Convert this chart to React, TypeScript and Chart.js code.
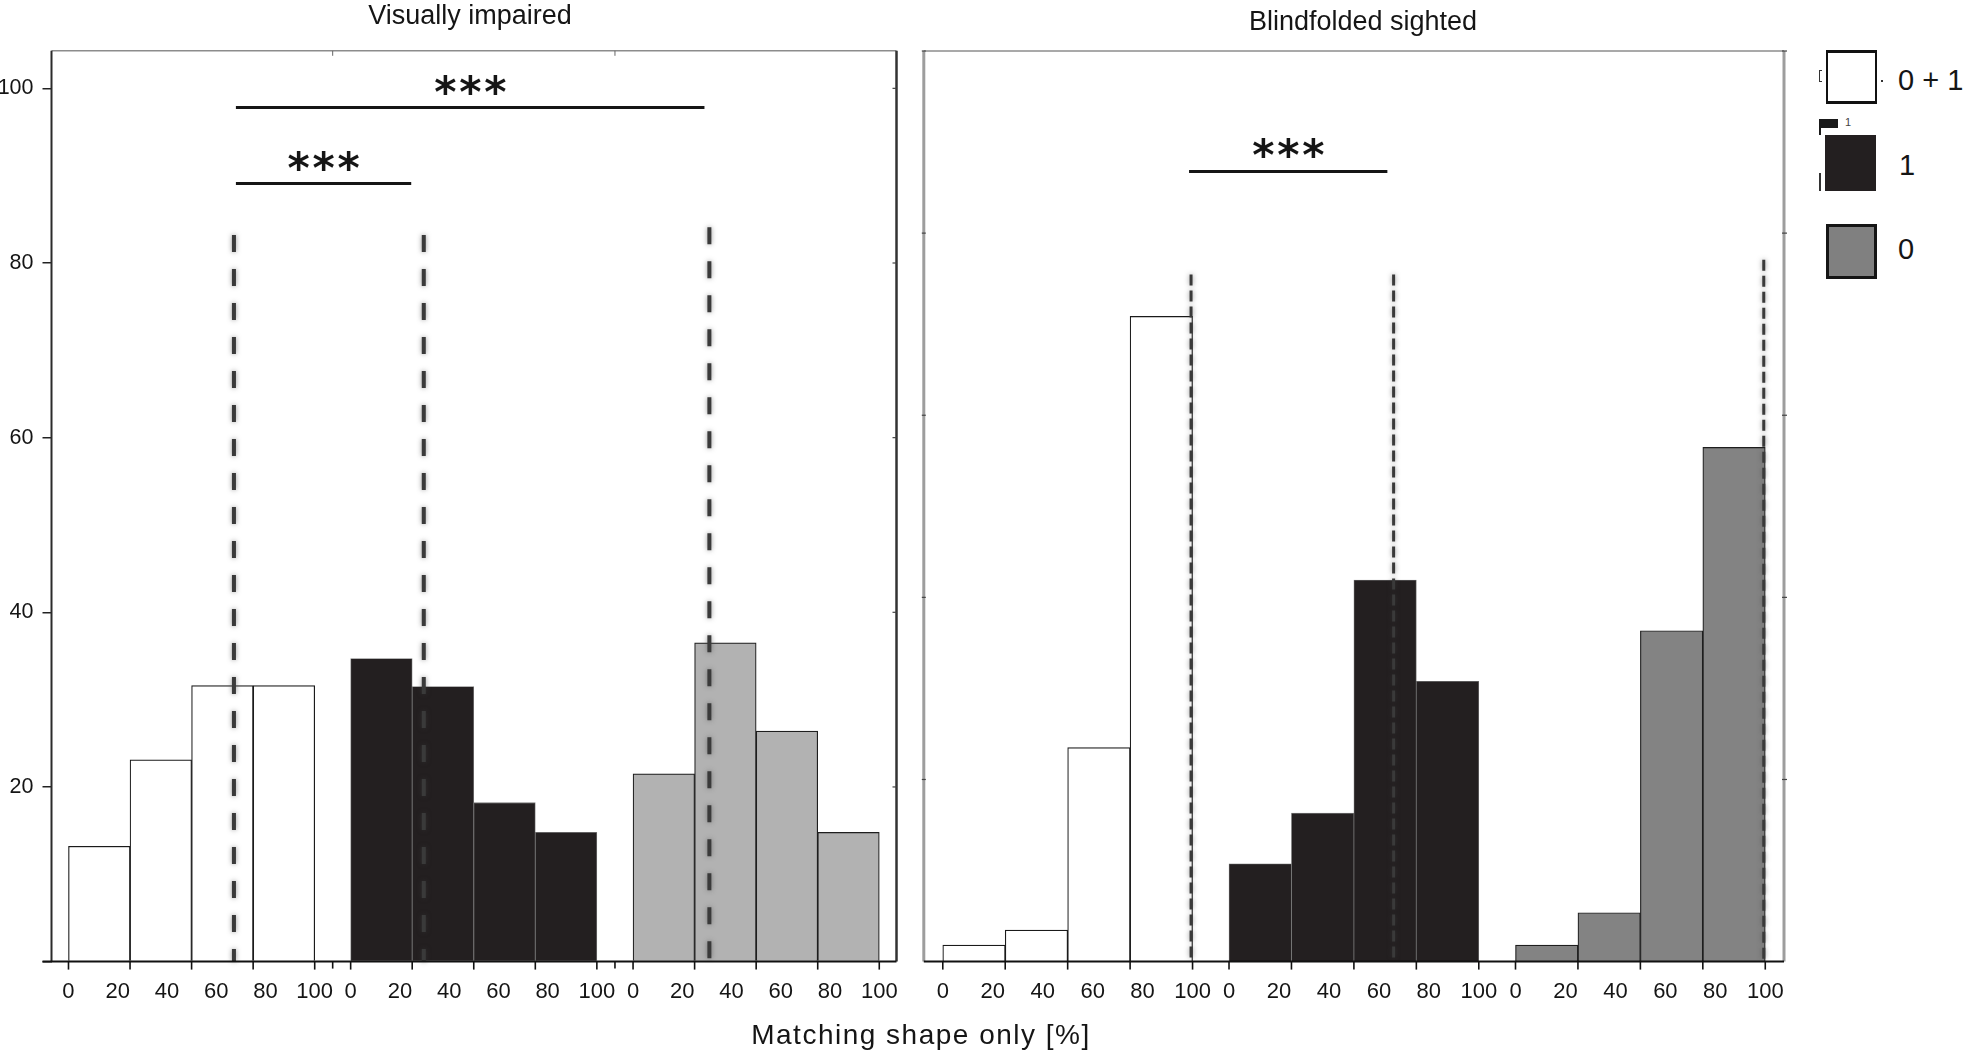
import React, { useEffect, useRef } from 'react';
import { Chart, registerables } from 'chart.js';

Chart.register(...registerables);

// ---------------- data ----------------
const binCenters = [12.5, 37.5, 62.5, 87.5];
const binEdges = [0, 25, 50, 75, 100];
const groupOffsets = [0, 114.6, 229.3];
const xTickValues = [0, 20, 40, 60, 80, 100];
const xTickLabels = ['0', '20', '40', '60', '80', '100'];
const yTickValues = [0, 20, 40, 60, 80, 100];
const yMax = 104.3;
const groupNames = ['0 + 1', '1', '0'];
const panelTitles = ['Visually impaired', 'Blindfolded sighted'];
const xAxisTitle = 'Matching shape only [%]';

// Visually impaired
const viWhite = [13.2, 23.1, 31.6, 31.6];
const viBlack = [34.7, 31.5, 18.2, 14.8];
const viGray = [21.5, 36.5, 26.4, 14.8];
// Blindfolded sighted
const bsWhite = [1.9, 3.6, 24.5, 73.9];
const bsBlack = [11.2, 17.0, 43.7, 32.1];
const bsGray = [1.9, 5.6, 37.9, 58.9];

// medians (position inside each group, 0-100) and height of the dashed line
const viMedians = [67.2, 29.7, 31.0];
const viMedianTops = [83.2, 83.2, 84.1];
const bsMedians = [99.4, 65.9, 99.4];
const bsMedianTops = [78.7, 78.7, 80.4];

// significance brackets: [groupA, groupB], [posA, posB], level
const viSigGroups = [[0, 2], [0, 1]];
const viSigPos = [[68, 29], [68, 24.6]];
const viSigY = [97.8, 89.1];
const bsSigGroups = [[0, 1]];
const bsSigPos = [[98.6, 63.4]];
const bsSigY = [90.5];
const sigLabel = '***';

// ---------------- drawing helpers ----------------
type Panel = {
  series: number[][];
  fills: string[];
  borders: string[];
  medians: number[];
  medianTops: number[];
  medianDash: number[];
  medianWidth: number;
  sigGroups: number[][];
  sigPos: number[][];
  sigY: number[];
  xMin: number;
  xMax: number;
  padTop: number;
  padRight: number;
  yWidth: number;
  yLabels: boolean;
  frame: any;
  gapTicks: boolean;
};

function drawStars(ctx: CanvasRenderingContext2D, cx: number, cy: number, text: string) {
  ctx.save();
  ctx.font = 'bold 100px "DejaVu Sans"';
  const m = ctx.measureText('*');
  const h = m.actualBoundingBoxAscent + m.actualBoundingBoxDescent;
  const size = (100 * 20) / h;
  ctx.font = `bold ${size}px "DejaVu Sans"`;
  const m2 = ctx.measureText('*');
  const mid = (m2.actualBoundingBoxAscent - m2.actualBoundingBoxDescent) / 2;
  const gw = m2.actualBoundingBoxRight - m2.actualBoundingBoxLeft;
  ctx.fillStyle = '#151515';
  ctx.textAlign = 'left';
  ctx.textBaseline = 'alphabetic';
  const n = text.length;
  for (let k = 0; k < n; k++) {
    const c = cx + (k - (n - 1) / 2) * 25;
    ctx.fillText('*', c - gw / 2 + m2.actualBoundingBoxLeft, cy + mid);
  }
  ctx.restore();
}

function line(ctx: CanvasRenderingContext2D, x1: number, y1: number, x2: number, y2: number) {
  ctx.beginPath();
  ctx.moveTo(x1, y1);
  ctx.lineTo(x2, y2);
  ctx.stroke();
}

function decorPlugin(p: Panel) {
  return {
    id: 'decor',
    afterDatasetsDraw(chart: any) {
      const { ctx, chartArea: a, scales } = chart;
      const x = scales.x;
      const y = scales.y;
      const y0 = y.getPixelForValue(0);
      ctx.save();

      // dashed medians
      p.medians.forEach((m, g) => {
        const px = x.getPixelForValue(groupOffsets[g] + m);
        const top = y.getPixelForValue(p.medianTops[g]);
        ctx.setLineDash(p.medianDash);
        ctx.lineCap = 'butt';
        ctx.shadowColor = 'rgba(60,60,60,0.55)';
        ctx.shadowBlur = 5;
        ctx.strokeStyle = '#3a3a3a';
        ctx.lineWidth = p.medianWidth;
        line(ctx, px, top, px, y0);
        ctx.shadowBlur = 0;
        ctx.shadowColor = 'transparent';
      });
      ctx.setLineDash([]);

      // significance brackets
      p.sigY.forEach((lv, i) => {
        const [ga, gb] = p.sigGroups[i];
        const [pa, pb] = p.sigPos[i];
        const xa = x.getPixelForValue(groupOffsets[ga] + pa);
        const xb = x.getPixelForValue(groupOffsets[gb] + pb);
        const py = y.getPixelForValue(lv);
        ctx.strokeStyle = '#151515';
        ctx.lineWidth = 3;
        line(ctx, xa, py, xb, py);
        drawStars(ctx, (xa + xb) / 2, py - 23, sigLabel);
      });

      // frame
      const f = p.frame;
      ctx.strokeStyle = f.topColor;
      ctx.lineWidth = f.topW;
      line(ctx, a.left, a.top, a.right, a.top);
      ctx.strokeStyle = f.leftColor;
      ctx.lineWidth = f.leftW;
      line(ctx, a.left, a.top, a.left, y0);
      ctx.strokeStyle = f.rightColor;
      ctx.lineWidth = f.rightW;
      line(ctx, a.right, a.top, a.right, y0);
      ctx.strokeStyle = '#111';
      ctx.lineWidth = 2;
      line(ctx, a.left - f.extLeft, y0, a.right, y0);

      // bin edge ticks
      ctx.strokeStyle = '#111';
      ctx.lineWidth = 1.6;
      groupOffsets.forEach((off) => {
        binEdges.forEach((e) => {
          const px = x.getPixelForValue(off + e);
          line(ctx, px, y0, px, y0 + 8);
        });
      });
      if (p.gapTicks) {
        for (let g = 0; g < groupOffsets.length - 1; g++) {
          const px = x.getPixelForValue((groupOffsets[g] + 100 + groupOffsets[g + 1]) / 2);
          line(ctx, px, y0, px, y0 + 7);
          ctx.lineWidth = 1;
          ctx.strokeStyle = '#666';
          line(ctx, px, a.top, px, a.top + 5);
          ctx.lineWidth = 1.6;
          ctx.strokeStyle = '#111';
        }
      }

      // small ticks on the borders
      ctx.strokeStyle = '#444';
      ctx.lineWidth = 1.2;
      if (p.yLabels) {
        yTickValues.forEach((v) => {
          if (v === 0) return;
          const py = y.getPixelForValue(v);
          line(ctx, a.right - 4, py, a.right, py);
        });
      } else {
        for (let i = 1; i <= 5; i++) {
          const py = y.getPixelForValue((yMax * i) / 5);
          line(ctx, a.left - 2, py, a.left + 2, py);
          line(ctx, a.right - 2, py, a.right + 3, py);
        }
      }
      ctx.restore();
    },
  };
}

function buildConfig(p: Panel): any {
  const datasets = p.series.map((vals, g) => ({
    label: groupNames[g],
    data: vals.map((v, i) => ({ x: groupOffsets[g] + binCenters[i], y: v })),
    backgroundColor: p.fills[g],
    borderColor: p.borders[g],
    borderWidth: g === 1 ? 0.8 : 1.2,
    barPercentage: 1,
    categoryPercentage: 1,
    grouped: false,
  }));
  const xlTicks: number[] = [];
  const xlLabels: string[] = [];
  groupOffsets.forEach((off) => {
    xTickValues.forEach((v, i) => {
      xlTicks.push(off + v);
      xlLabels.push(xTickLabels[i]);
    });
  });
  return {
    type: 'bar',
    data: { datasets },
    options: {
      responsive: false,
      animation: false,
      devicePixelRatio: 1,
      events: [],
      layout: { padding: { top: p.padTop, right: p.padRight, left: 0, bottom: 0 } },
      plugins: { legend: { display: false }, tooltip: { enabled: false }, title: { display: false } },
      scales: {
        x: {
          type: 'linear',
          display: false,
          min: p.xMin,
          max: p.xMax,
          offset: false,
          afterBuildTicks: (s: any) => {
            s.ticks = [];
          },
        },
        xl: {
          type: 'linear',
          position: 'bottom',
          min: p.xMin,
          max: p.xMax,
          offset: false,
          afterBuildTicks: (s: any) => {
            s.ticks = xlTicks.map((v) => ({ value: v }));
          },
          afterFit: (s: any) => {
            s.height = 90.4;
          },
          grid: { display: false, drawTicks: false },
          border: { display: false },
          ticks: {
            autoSkip: false,
            maxRotation: 0,
            padding: 17,
            color: '#151515',
            font: { family: '"Liberation Sans", Arial, sans-serif', size: 22 },
            callback: (_v: any, i: number) => xlLabels[i],
          },
        },
        y: {
          type: 'linear',
          display: true,
          min: 0,
          max: yMax,
          afterBuildTicks: (s: any) => {
            s.ticks = yTickValues.map((v) => ({ value: v }));
          },
          afterFit: (s: any) => {
            s.width = p.yWidth;
          },
          grid: {
            display: p.yLabels,
            drawOnChartArea: false,
            drawTicks: true,
            tickLength: 9,
            color: '#222',
            lineWidth: 1.5,
          },
          border: { display: false },
          ticks: {
            display: p.yLabels,
            padding: 9,
            color: '#151515',
            font: { family: '"Liberation Sans", Arial, sans-serif', size: 21.5 },
            callback: (v: any) => (v === 0 ? '' : String(v)),
          },
        },
      },
    },
    plugins: [decorPlugin(p)],
  };
}

const leftPanel: Panel = {
  series: [viWhite, viBlack, viGray],
  fills: ['#ffffff', '#231f20', '#b2b2b2'],
  borders: ['#1a1a1a', '#7a7a7a', '#1e1e1e'],
  medians: viMedians,
  medianTops: viMedianTops,
  medianDash: [17, 17],
  medianWidth: 4,
  sigGroups: viSigGroups,
  sigPos: viSigPos,
  sigY: viSigY,
  xMin: -6.9,
  xMax: 336.3,
  padTop: 50.8,
  padRight: 17.1,
  yWidth: 51.5,
  yLabels: true,
  frame: { topColor: '#8c8c8c', topW: 1.5, leftColor: '#2b2b2b', leftW: 2, rightColor: '#333', rightW: 2.5, extLeft: 9 },
  gapTicks: true,
};

const rightPanel: Panel = {
  series: [bsWhite, bsBlack, bsGray],
  fills: ['#ffffff', '#231f20', '#838383'],
  borders: ['#1a1a1a', '#6e6e6e', '#1e1e1e'],
  medians: bsMedians,
  medianTops: bsMedianTops,
  medianDash: [11, 5],
  medianWidth: 3,
  sigGroups: bsSigGroups,
  sigPos: bsSigPos,
  sigY: bsSigY,
  xMin: -7.6,
  xMax: 336.8,
  padTop: 51,
  padRight: 18,
  yWidth: 11.8,
  yLabels: false,
  frame: { topColor: '#8c8c8c', topW: 1.5, leftColor: '#9d9d9d', leftW: 3, rightColor: '#9d9d9d', rightW: 3, extLeft: 0 },
  gapTicks: false,
};

function PanelChart({ panel, left, width }: { panel: Panel; left: number; width: number }) {
  const ref = useRef<HTMLCanvasElement | null>(null);
  useEffect(() => {
    if (!ref.current) return;
    const chart = new Chart(ref.current, buildConfig(panel));
    return () => chart.destroy();
  }, [panel]);
  return (
    <canvas
      ref={ref}
      width={width}
      height={1052}
      style={{ position: 'absolute', left, top: 0, width, height: 1052 }}
    />
  );
}

const font = '"Liberation Sans", Arial, Helvetica, sans-serif';

export default function App() {
  const txt = (extra: React.CSSProperties): React.CSSProperties => ({
    position: 'absolute',
    fontFamily: font,
    lineHeight: 1,
    color: '#151515',
    whiteSpace: 'nowrap',
    ...extra,
  });
  return (
    <div
      style={{
        position: 'fixed',
        left: 0,
        top: 0,
        width: 1968,
        height: 1052,
        background: '#ffffff',
        overflow: 'hidden',
      }}
    >
      <PanelChart panel={leftPanel} left={0} width={915} />
      <PanelChart panel={rightPanel} left={912} width={890} />

      {/* titles */}
      <div style={txt({ left: 470, top: 2, fontSize: 27, transform: 'translateX(-50%)' })}>{panelTitles[0]}</div>
      <div style={txt({ left: 1363, top: 7.5, fontSize: 27, transform: 'translateX(-50%)' })}>{panelTitles[1]}</div>
      <div style={txt({ left: 921, top: 1021, fontSize: 28, letterSpacing: 1.5, transform: 'translateX(-50%)' })}>
        {xAxisTitle}
      </div>

      {/* legend */}
      <div style={{ position: 'absolute', left: 1826, top: 49.5, width: 50.5, height: 54.5, boxSizing: 'border-box', borderStyle: 'solid', borderColor: '#111', borderWidth: '3px 2px', background: '#fff' }} />
      <div style={{ position: 'absolute', left: 1825, top: 134.5, width: 51, height: 56, background: '#231f20' }} />
      <div style={{ position: 'absolute', left: 1826, top: 223.5, width: 50.5, height: 55, boxSizing: 'border-box', border: '3px solid #151515', background: '#808080' }} />
      <div style={txt({ left: 1898, top: 65.5, fontSize: 29 })}>{groupNames[0]}</div>
      <div style={txt({ left: 1899, top: 150.5, fontSize: 29 })}>{groupNames[1]}</div>
      <div style={txt({ left: 1898, top: 235, fontSize: 29 })}>{groupNames[2]}</div>

      {/* small stray marks of the original legend */}
      <div style={{ position: 'absolute', left: 1819.3, top: 70, width: 3, height: 11.5, boxSizing: 'border-box', borderStyle: 'solid', borderColor: '#333', borderWidth: '1px 0 1px 1.5px' }} />
      <div style={{ position: 'absolute', left: 1880.5, top: 80, width: 2, height: 2, background: '#333' }} />
      <div style={{ position: 'absolute', left: 1819.3, top: 119.3, width: 19, height: 9, background: '#1a1a1a' }} />
      <div style={{ position: 'absolute', left: 1819.3, top: 119.3, width: 2, height: 16, background: '#1a1a1a' }} />
      <div style={txt({ left: 1845, top: 117, fontSize: 11, color: '#444' })}>1</div>
      <div style={{ position: 'absolute', left: 1819.3, top: 172.7, width: 1.6, height: 18, background: '#333' }} />
    </div>
  );
}
